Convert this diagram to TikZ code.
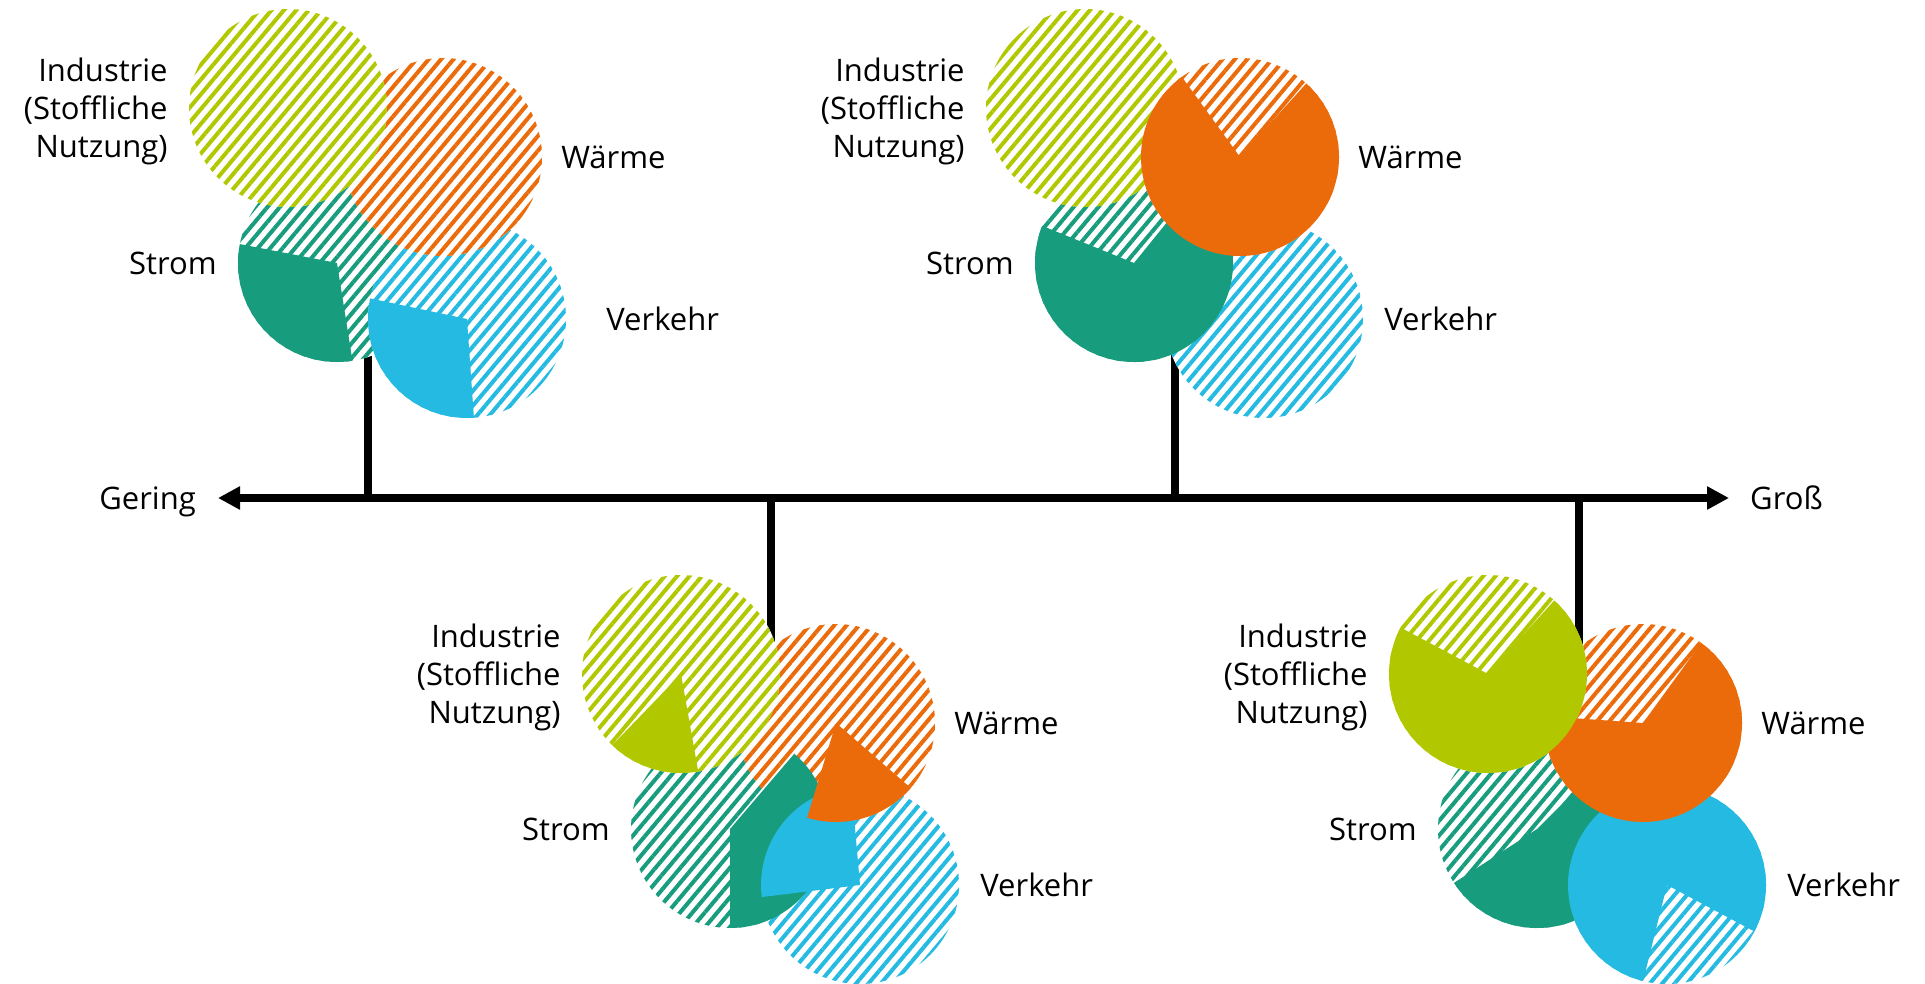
\documentclass[tikz,border=0pt]{standalone}
\usepackage{fontspec}
\setmainfont{Open Sans}
\usetikzlibrary{arrows.meta, patterns.meta, positioning}

\definecolor{industrie}{RGB}{177,200,0}
\definecolor{waerme}{RGB}{235,106,10}
\definecolor{strom}{RGB}{23,156,125}
\definecolor{verkehr}{RGB}{37,186,226}

\tikzset{
  disc/.style={circle, inner sep=0pt, minimum size=198pt, fill=white,
    postaction={pattern={Lines[angle=50, distance=9.5pt, line width=4pt]}, pattern color=#1}},
  sector/.style={font=\fontsize{31}{38}\selectfont, inner sep=0pt, align=right},
  axisline/.style={line width=7.5pt, {Triangle[length=22pt, width=22pt]}-{Triangle[length=22pt, width=22pt]}},
  stem/.style={line width=7.5pt},
}

% solid part of a disc: node, start, end, colour
\newcommand{\pieslice}[4]{%
  \fill[#4] (#1.center) -- ++(#2:99pt) arc[start angle=#2, end angle=#3, radius=99pt] -- cycle;}

\begin{document}
\begin{tikzpicture}[x=1pt, y=1pt]
  \useasboundingbox (0,0) rectangle (1925,-984);

  % axis
  \node[sector, anchor=east] (gering) at (196,-502) {Gering};
  \node[sector, anchor=west] (gross) at (1750,-498) {Groß};
  \draw[axisline] ([xshift=22pt,yshift=4pt]gering.east) -- ([xshift=-21pt]gross.west);

  % stems
  \coordinate (a1) at (368,-498);  \coordinate (e1) at (368,-300);
  \coordinate (a2) at (1175,-498); \coordinate (e2) at (1175,-300);
  \coordinate (a3) at (771,-498);  \coordinate (e3) at (771,-700);
  \coordinate (a4) at (1579,-498); \coordinate (e4) at (1579,-700);
  \draw[stem] (a1) -- (e1);
  \draw[stem] (a2) -- (e2);
  \draw[stem] (a3) -- (e3);
  \draw[stem] (a4) -- (e4);

  % first cluster
  \node[disc=strom] (s1) at (337,-263) {};
  \node[disc=verkehr] (v1) at (467,-319) {};
  \node[disc=waerme] (w1) at (443,-157) {};
  \node[disc=industrie] (i1) at (288,-108) {};
  \pieslice{s1}{169}{279}{strom}
  \pieslice{v1}{168}{274}{verkehr}
  \node[sector, left=21pt of i1, yshift=-3pt] (ti1) {Industrie\\(Stoffliche\\Nutzung)};
  \node[sector, right=19pt of w1] (tw1) {Wärme};
  \node[sector, left=21pt of s1] (ts1) {Strom};
  \node[sector, right=40pt of v1] (tv1) {Verkehr};

  % second cluster
  \node[disc=strom] (s2) at (1134,-263) {};
  \node[disc=verkehr] (v2) at (1264,-319) {};
  \node[disc=waerme] (w2) at (1240,-157) {};
  \node[disc=industrie] (i2) at (1085,-108) {};
  \pieslice{s2}{158}{411}{strom}
  \pieslice{w2}{126}{408}{waerme}
  \node[sector, left=21pt of i2, yshift=-3pt] (ti2) {Industrie\\(Stoffliche\\Nutzung)};
  \node[sector, right=19pt of w2] (tw2) {Wärme};
  \node[sector, left=21pt of s2] (ts2) {Strom};
  \node[sector, right=21pt of v2] (tv2) {Verkehr};

  % third cluster
  \node[disc=strom] (s3) at (730,-829) {};
  \node[disc=verkehr] (v3) at (860,-885) {};
  \node[disc=waerme] (w3) at (836,-723) {};
  \node[disc=industrie] (i3) at (681,-674) {};
  \pieslice{s3}{-90}{49.5}{strom}
  \pieslice{v3}{95}{187}{verkehr}
  \pieslice{w3}{253}{319}{waerme}
  \pieslice{i3}{226}{280}{industrie}
  \node[sector, left=21pt of i3, yshift=-3pt] (ti3) {Industrie\\(Stoffliche\\Nutzung)};
  \node[sector, right=19pt of w3] (tw3) {Wärme};
  \node[sector, left=21pt of s3] (ts3) {Strom};
  \node[sector, right=21pt of v3] (tv3) {Verkehr};

  % fourth cluster
  \node[disc=strom] (s4) at (1537,-829) {};
  \node[disc=verkehr] (v4) at (1667,-885) {};
  \node[disc=waerme] (w4) at (1643,-723) {};
  \node[disc=industrie] (i4) at (1488,-674) {};
  \pieslice{s4}{213}{405}{strom}
  \pieslice{v4}{332}{616}{verkehr}
  \pieslice{w4}{176}{414}{waerme}
  \pieslice{i4}{152}{408}{industrie}
  \node[sector, left=21pt of i4, yshift=-3pt] (ti4) {Industrie\\(Stoffliche\\Nutzung)};
  \node[sector, right=19pt of w4] (tw4) {Wärme};
  \node[sector, left=21pt of s4] (ts4) {Strom};
  \node[sector, right=21pt of v4] (tv4) {Verkehr};
\end{tikzpicture}
\end{document}
